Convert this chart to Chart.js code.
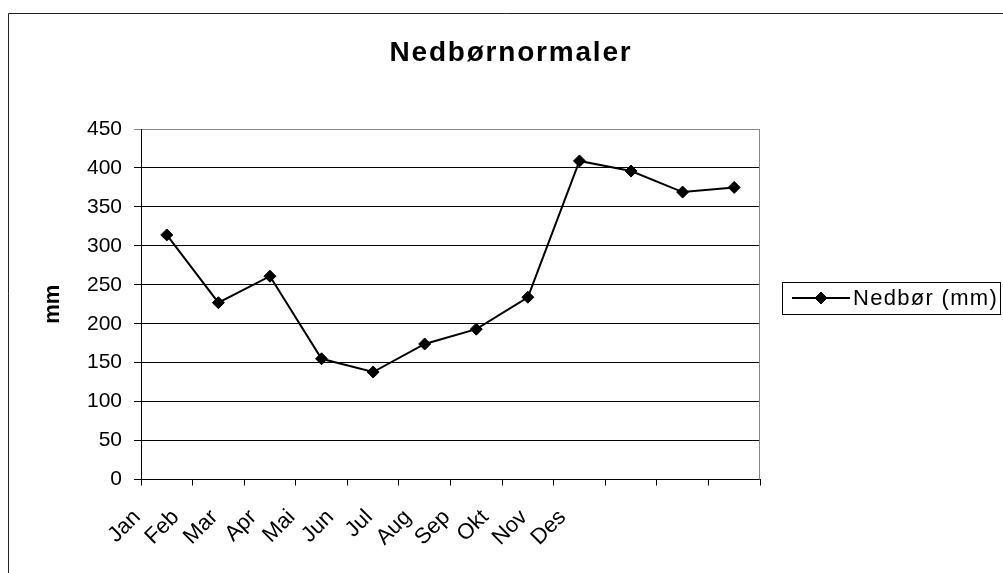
<!DOCTYPE html>
<html>
<head>
<meta charset="utf-8">
<title>Nedbørnormaler</title>
<script src="https://cdn.jsdelivr.net/npm/chart.js@4.4.1/dist/chart.umd.min.js"></script>
<style>
  body { margin: 0; background: #fff; }
  #wrap { width: 1003px; height: 573px; }
</style>
</head>
<body>
<div id="wrap">
  <canvas id="rain-chart" width="1003" height="573"></canvas>
</div>
<script>
// monthly normals
const months = ["Jan", "Feb", "Mar", "Apr", "Mai", "Jun", "Jul", "Aug", "Sep", "Okt", "Nov", "Des"];
const rain = [314, 227, 261, 155, 138, 174, 193, 234, 409, 396, 369, 375];
const seriesLabel = "Nedbør (mm)";
const yTitle = "mm";
const chartTitle = "Nedbørnormaler";
// the month names in the original sit closer together than the months themselves,
// so they get their own axis padded out with blank slots
const monthLabels = months.concat(["", "", "", "", ""]);

const FONT = '"Liberation Sans", Arial, sans-serif';

// frame round the whole chart, title, grey edge on the plot and the boxed legend
const framePlugin = {
  id: 'frame',
  afterDraw(chart) {
    const ctx = chart.ctx;
    const area = chart.chartArea;
    ctx.save();

    ctx.strokeStyle = '#222';
    ctx.lineWidth = 1;
    ctx.beginPath();
    ctx.moveTo(8.5, 573);
    ctx.lineTo(8.5, 13.5);
    ctx.lineTo(1003, 13.5);
    ctx.stroke();

    ctx.strokeStyle = '#888';
    ctx.beginPath();
    ctx.moveTo(area.right - 0.5, area.top);
    ctx.lineTo(area.right - 0.5, area.bottom);
    ctx.stroke();

    // title
    ctx.fillStyle = '#000';
    ctx.font = 'bold 28px ' + FONT;
    ctx.letterSpacing = '1.8px';
    ctx.textAlign = 'center';
    ctx.textBaseline = 'alphabetic';
    ctx.fillText(chartTitle, 511, 61);

    // legend
    const ds = chart.data.datasets[0];
    const lx = 782, ly = 282, lw = 218, lh = 32;
    const my = ly + lh / 2;
    ctx.strokeStyle = '#000';
    ctx.lineWidth = 1;
    ctx.strokeRect(lx + 0.5, ly + 0.5, lw, lh);
    ctx.strokeStyle = ds.borderColor;
    ctx.lineWidth = 2;
    ctx.beginPath();
    ctx.moveTo(lx + 10, my);
    ctx.lineTo(lx + 68, my);
    ctx.stroke();
    ctx.lineWidth = 1;
    Chart.helpers.drawPoint(ctx, {
      pointStyle: 'rectRot',
      radius: ds.pointRadius,
      borderWidth: 1
    }, lx + 39, my);
    ctx.fillStyle = '#000';
    ctx.fill();
    ctx.font = '22px ' + FONT;
    ctx.letterSpacing = '1.3px';
    ctx.textBaseline = 'middle';
    ctx.textAlign = 'left';
    ctx.fillText(ds.label, lx + 71, my + 1);

    ctx.restore();
  }
};

var ctx = document.getElementById("rain-chart").getContext("2d");

var chart = new Chart(ctx, {
  type: "line",
  data: {
    labels: months,
    datasets: [
      {
        data: rain,
        label: seriesLabel,
        fill: false,
        borderColor: "#000",
        borderWidth: 2,
        tension: 0,
        pointStyle: 'rectRot',
        pointRadius: 6,
        pointBorderWidth: 1,
        pointBackgroundColor: "#000",
        pointBorderColor: "#000"
      },
    ],
  },
  options: {
    responsive: false,
    animation: false,
    layout: {
      padding: { left: 0, right: 243, top: 129, bottom: 0 }
    },
    plugins: {
      legend: { display: false },
      tooltip: { enabled: false },
      title: { display: false }
    },
    scales: {
      x: {
        offset: true,
        weight: 0,
        afterFit(scale) { scale.height = 6; },
        grid: {
          offset: true,
          drawOnChartArea: false,
          drawTicks: true,
          tickLength: 6,
          color: '#000'
        },
        border: { display: true, color: '#000', width: 1 },
        ticks: { display: false }
      },
      x2: {
        type: 'category',
        position: 'bottom',
        labels: monthLabels,
        offset: false,
        weight: 1,
        afterFit(scale) { scale.height = 87.5; },
        grid: { display: false },
        border: { display: false },
        ticks: {
          color: '#000',
          autoSkip: false,
          maxRotation: 45,
          minRotation: 45,
          labelOffset: -4,
          padding: 11,
          font: { family: FONT, size: 22 }
        }
      },
      y: {
        min: 0,
        max: 450,
        afterFit(scale) { scale.width = 141; },
        grid: {
          color: (c) => c.tick && c.tick.value === 450 ? '#888' : '#000',
          tickLength: 7,
          lineWidth: 1
        },
        border: { display: true, color: '#000', width: 1 },
        ticks: {
          stepSize: 50,
          color: '#000',
          padding: 12,
          font: { family: FONT, size: 21 }
        },
        title: {
          display: true,
          text: yTitle,
          color: '#000',
          padding: { top: 40, bottom: 4 },
          font: { family: FONT, size: 22, weight: 'bold' }
        }
      }
    }
  },
  plugins: [framePlugin]
});
</script>
</body>
</html>
